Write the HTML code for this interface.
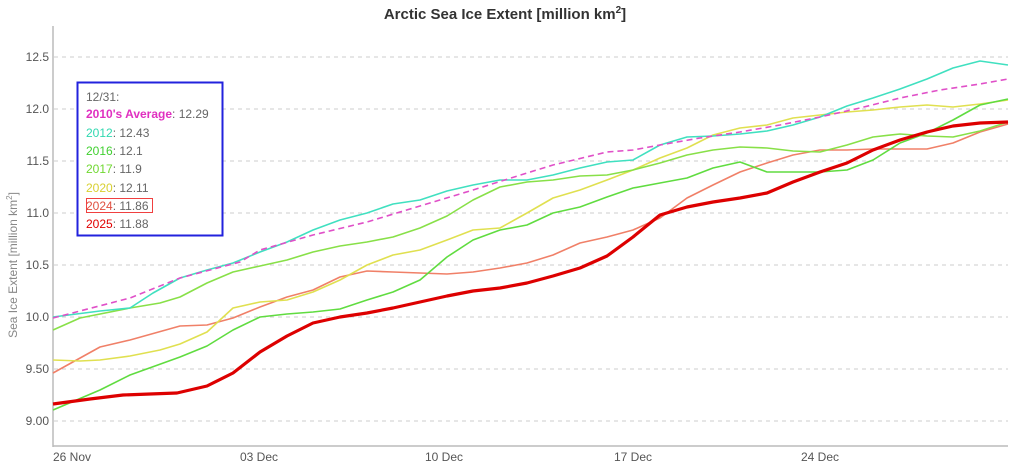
<!DOCTYPE html>
<html><head><meta charset="utf-8"><style>
body{margin:0;background:#fff;}
svg{display:block;font-family:"Liberation Sans",sans-serif;}
</style></head><body>
<svg width="1024" height="466" viewBox="0 0 1024 466">
<rect width="1024" height="466" fill="#fff"/>
<text x="505" y="19" text-anchor="middle" font-size="15" font-weight="bold" fill="#333">Arctic Sea Ice Extent [million km<tspan font-size="10" dy="-6">2</tspan><tspan dy="6">]</tspan></text>
<g stroke="#ccc" stroke-dasharray="4,4" stroke-width="1">
<line x1="54" x2="1008" y1="57" y2="57"/><line x1="54" x2="1008" y1="109" y2="109"/>
<line x1="54" x2="1008" y1="161" y2="161"/><line x1="54" x2="1008" y1="213" y2="213"/>
<line x1="54" x2="1008" y1="265" y2="265"/><line x1="54" x2="1008" y1="317" y2="317"/>
<line x1="54" x2="1008" y1="369" y2="369"/><line x1="54" x2="1008" y1="421" y2="421"/>
</g>
<line x1="53" y1="26" x2="53" y2="447" stroke="#bbb" stroke-width="1.5"/>
<line x1="53" y1="446" x2="1008" y2="446" stroke="#bbb" stroke-width="1.5"/>
<g font-size="12" fill="#555" text-anchor="end">
<text x="49" y="61">12.5</text><text x="49" y="113">12.0</text><text x="49" y="165">11.5</text>
<text x="49" y="217">11.0</text><text x="49" y="269">10.5</text><text x="49" y="321">10.0</text>
<text x="49" y="373">9.50</text><text x="49" y="425">9.00</text>
</g>
<g font-size="12" fill="#555">
<text x="53" y="461">26 Nov</text><text x="240" y="461">03 Dec</text><text x="425" y="461">10 Dec</text>
<text x="614" y="461">17 Dec</text><text x="801" y="461">24 Dec</text>
</g>
<text transform="translate(17,265) rotate(-90)" text-anchor="middle" font-size="12" fill="#888">Sea Ice Extent [million km<tspan font-size="8" dy="-5">2</tspan><tspan dy="5">]</tspan></text>
<g fill="none" stroke-linejoin="round">
<polyline stroke="#f08068" stroke-width="1.6" points="53,373 100,347 130,340 180,326 207,325 233,318 260,307 287,297 313,290 340,277 367,271 393,272 420,273 447,274 473,272 500,268 527,263 553,255 580,243 607,237 633,230 660,218 687,198 713,185 740,172 767,163 793,155 820,150 847,150 873,149 900,149 927,149 953,143 980,132 1008,124"/>
<polyline stroke="#e0e050" stroke-width="1.6" points="53,360 80,361 100,360 130,356 160,350 180,344 207,332 233,308 260,302 287,300 313,292 340,280 367,265 393,255 420,250 447,240 473,230 500,228 527,213 553,198 580,190 607,180 633,170 660,158 687,148 713,135 740,128 767,125 793,118 820,115 847,112 873,110 900,107 927,105 953,107 980,104 1008,100"/>
<polyline stroke="#60dc40" stroke-width="1.6" points="53,410 100,390 130,375 180,357 207,346 233,330 260,317 287,314 313,312 340,309 367,300 393,292 420,280 447,257 473,240 500,230 527,225 553,213 580,207 607,197 633,188 660,183 687,178 713,168 740,162 767,172 793,172 820,172 847,170 873,160 900,143 927,133 953,120 980,105 1008,99"/>
<polyline stroke="#88e048" stroke-width="1.6" points="53,330 80,318 130,308 160,303 180,297 207,283 233,272 260,266 287,260 313,252 340,246 367,242 393,237 420,228 447,216 473,200 500,187 527,182 553,180 580,176 607,175 633,170 660,163 687,155 713,150 740,147 767,148 793,151 820,152 847,145 873,137 900,134 927,136 953,137 980,131 1008,122"/>
<polyline stroke="#40e0c0" stroke-width="1.6" points="53,317 100,311 130,308 153,293 180,278 207,270 233,263 260,252 287,242 313,230 340,220 367,213 393,204 420,200 447,191 473,185 500,180 527,180 553,175 580,168 607,162 633,160 660,145 687,137 713,136 740,134 767,131 793,125 820,117 847,106 873,98 900,89 927,79 953,68 980,61 1008,65"/>
<polyline stroke="#e050c8" stroke-width="1.6" stroke-dasharray="6,4" points="53,318 130,298 180,278 240,262 260,250 313,235 367,222 420,206 473,190 527,173 553,165 607,152 633,150 660,145 700,138 740,132 780,125 820,117 860,108 900,98 940,90 980,84 1008,79"/>
<polyline stroke="#dd0000" stroke-width="3.2" points="53,404 90,399 123,395 150,394 177,393 207,386 233,373 260,352 287,336 313,323 340,317 367,313 393,308 420,302 447,296 473,291 500,288 527,283 553,276 580,268 607,256 633,237 660,215 687,207 713,202 740,198 767,193 793,182 820,172 847,163 873,150 900,140 927,132 953,126 980,123 1008,122"/>
</g>
<rect x="77.5" y="82.5" width="145" height="153" fill="#fff" stroke="#2222dd" stroke-width="2"/>
<g font-size="12" fill="#666">
<text x="86" y="101">12/31:</text>
<text x="86" y="118"><tspan fill="#e030c0" font-weight="bold">2010's Average</tspan>: 12.29</text>
<text x="86" y="137"><tspan fill="#30d8b0">2012</tspan>: 12.43</text>
<text x="86" y="155"><tspan fill="#40d030">2016</tspan>: 12.1</text>
<text x="86" y="173"><tspan fill="#70d830">2017</tspan>: 11.9</text>
<text x="86" y="192"><tspan fill="#d8d030">2020</tspan>: 12.11</text>
<text x="86" y="210"><tspan fill="#e05040">2024</tspan>: 11.86</text>
<text x="86" y="228"><tspan fill="#e00000">2025</tspan>: 11.88</text>
</g>
<rect x="86.5" y="198.5" width="66" height="14" fill="none" stroke="#f04040" stroke-width="1"/>
</svg>
</body></html>
